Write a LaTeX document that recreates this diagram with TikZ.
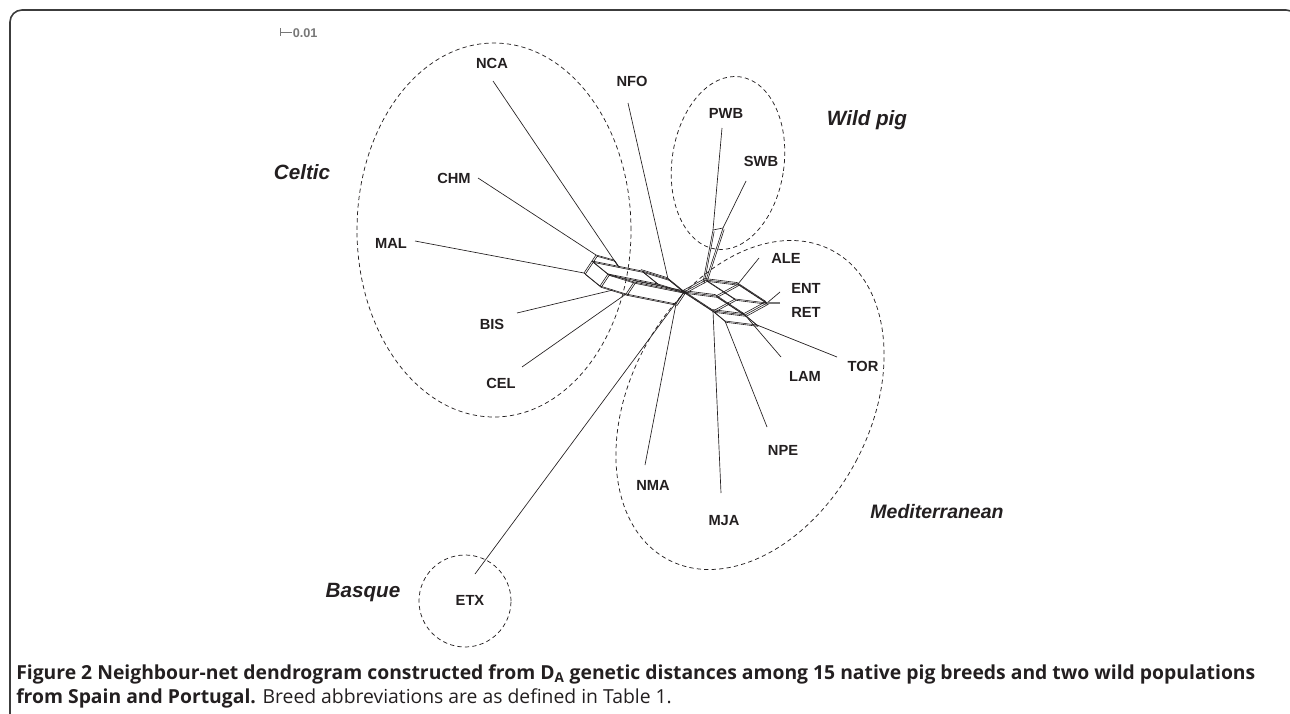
\documentclass[tikz,border=0pt]{standalone}
\usepackage{fontspec}
\setmainfont{Liberation Sans}
\newfontfamily\capfont{Open Sans}
\definecolor{ink}{HTML}{231F20}
\definecolor{framecol}{HTML}{3C3C3C}
\definecolor{scalecol}{HTML}{777777}
\definecolor{retcol}{HTML}{777777}
\begin{document}
\begin{tikzpicture}[x=0.75pt,y=-0.75pt,
  lab/.style={font=\bfseries\fontsize{11}{13}\selectfont, text=ink, inner sep=0pt},
  grplab/.style={font=\bfseries\itshape\fontsize{15.5}{18}\selectfont, text=ink, inner sep=0pt},
  grp/.style={draw=ink, dash pattern=on 3.2pt off 2.4pt, line width=0.55pt},
  leaf/.style={draw=ink, line width=0.5pt},
  net/.style={draw=ink, line width=0.45pt, line join=round},
  captext/.style={anchor=base west, inner sep=0pt, text=ink, font=\capfont\fontsize{14.5}{17}\selectfont}
]
\useasboundingbox (0,0) rectangle (1290,714);
% frame
\draw[framecol, line width=1.2pt, rounded corners=9pt] (10,730) -- (10,10) -- (1298,10) -- (1298,60);

% scale bar
\coordinate (sb1) at (280,32);
\coordinate (sb2) at (292,32);
\draw[scalecol, line width=0.5pt] (280,28) -- (280,36);
\draw[scalecol, line width=0.5pt] (sb1) -- (sb2);
\node[anchor=west, inner sep=0pt, text=scalecol, font=\bfseries\fontsize{9.5}{11}\selectfont] (scale) at (292.5,33) {0.01};

% group outlines
\draw[grp] (494,230) ellipse [x radius=102.75pt, y radius=140.25pt];
\draw[grp, shift={(728,163)}, rotate=-8] (0,0) ellipse [x radius=42pt, y radius=65.25pt];
\draw[grp, shift={(750,405)}, rotate=-28] (0,0) ellipse [x radius=90pt, y radius=131.25pt];
\draw[grp] (465,601) circle [radius=34.5pt];

% group labels
\node[grplab] (celtic) at (302,172) {Celtic};
\node[grplab] (wild) at (867,120) {Wild pig};
\node[grplab, font=\bfseries\itshape\fontsize{14.6}{18}\selectfont] (medit) at (937,512) {Mediterranean};
\node[grplab] (basque) at (363,593) {Basque};

% breed labels
\node[lab] (NCA) at (492,63) {NCA};
\node[lab] (NFO) at (632,81) {NFO};
\node[lab] (CHM) at (454,178) {CHM};
\node[lab] (MAL) at (391,243) {MAL};
\node[lab] (BIS) at (492,324) {BIS};
\node[lab] (CEL) at (501,383) {CEL};
\node[lab] (ETX) at (470,600) {ETX};
\node[lab] (PWB) at (726,113) {PWB};
\node[lab] (SWB) at (761,161) {SWB};
\node[lab] (ALE) at (786,258) {ALE};
\node[lab] (ENT) at (806,288) {ENT};
\node[lab] (RET) at (806,312) {RET};
\node[lab] (TOR) at (863,366) {TOR};
\node[lab] (LAM) at (805,376) {LAM};
\node[lab] (NPE) at (783,450) {NPE};
\node[lab] (NMA) at (653,485) {NMA};
\node[lab] (MJA) at (724,521) {MJA};

% leaf-line outer ends
\coordinate (ncaE) at (493,81);
\coordinate (nfoE) at (628,103);
\coordinate (chmE) at (478,178);
\coordinate (malE) at (415,241);
\coordinate (bisE) at (517,313);
\coordinate (celE) at (522,367);
\coordinate (etxE) at (475,574);
\coordinate (pwbE) at (722,128);
\coordinate (swbE) at (746,181);
\coordinate (aleE) at (759,258);
\coordinate (entE) at (780,292);
\coordinate (retE) at (780,303);
\coordinate (torE) at (837,357);
\coordinate (lamE) at (781,357);
\coordinate (npeE) at (767,427);
\coordinate (nmaE) at (645,465);
\coordinate (mjaE) at (721,493);

% network vertices (left part)
\coordinate (V0) at (584,273);
\coordinate (A1) at (592,261);
\coordinate (A2) at (642,271);
\coordinate (A3) at (668,279);
\coordinate (L)  at (684,292);
\coordinate (B1) at (658,284);
\coordinate (B2) at (608,274);
\coordinate (B3) at (600,286);
\coordinate (B4) at (634,282);
\coordinate (B5) at (626,294);
\coordinate (B6) at (676,304);
\coordinate (nc) at (618,266);
\coordinate (bi) at (613,290);
\coordinate (C0) at (596,255);
\coordinate (C2) at (614,260);
% right part
\coordinate (P1) at (706,280);
\coordinate (P2) at (738,284);
\coordinate (P3) at (767,303);
\coordinate (P4) at (745,315);
\coordinate (P5) at (713,311);
\coordinate (Q1) at (716,296);
\coordinate (Q2) at (735,299);
\coordinate (P6) at (725,321);
\coordinate (P7) at (757,325);
% wild pig stems
\coordinate (p1) at (713,230);
\coordinate (p2) at (703,282);
\coordinate (s1) at (723,228);

\newcommand{\netcore}{%
  \draw[net] (V0) -- (A1) -- (A2) -- (A3) -- (L);
  \draw[net] (A2) -- (B1) -- (L);
  \draw[net] (A1) -- (B2) -- (B1);
  \draw[net] (V0) -- (B3) -- (B2) -- (B4) -- (L);
  \draw[net] (B3) -- (B5) -- (B4);
  \draw[net] (B5) -- (B6) -- (L);
  \draw[net] (A1) -- (C0) -- (C2) -- (nc);
  \draw[net] (L) -- (P1) -- (P2) -- (P3);
  \draw[net] (L) -- (P5) -- (P4) -- (P3);
  \draw[net] (L) -- (Q1) -- (P2);
  \draw[net] (Q1) -- (P4);
  \draw[net] (P1) -- (Q2) -- (P3);
  \draw[net] (P5) -- (Q2);
  \draw[net] (P5) -- (P6) -- (P7) -- (P4);
  \draw[net] (p1) -- (p2);
  \draw[net] (s1) -- (P1);
}
\netcore
\begin{scope}[transform canvas={shift={(0.9pt,-1.0pt)}}]
\netcore
\end{scope}
\begin{scope}[transform canvas={shift={(-0.8pt,1.1pt)}}]
\draw[net] (A2) -- (A3) -- (L) -- (P1) -- (P2) -- (P3);
\draw[net] (B4) -- (L) -- (Q1) -- (P4);
\draw[net] (L) -- (P5) -- (P4) -- (P3);
\end{scope}

% leaf edges
\draw[leaf] (ncaE) -- (nc);
\draw[leaf] (nfoE) -- (A3);
\draw[leaf] (chmE) -- (C0);
\draw[leaf] (malE) -- (V0);
\draw[leaf] (bisE) -- (bi);
\draw[leaf] (celE) -- (B5);
\draw[leaf] (etxE) -- (L);
\draw[leaf] (pwbE) -- (p1);
\draw[leaf] (swbE) -- (s1);
\draw[leaf] (p1) -- (s1);
\draw[leaf] (aleE) -- (P2);
\draw[leaf] (entE) -- (P3);
\draw[retcol, line width=0.9pt] (retE) -- (P3);
\draw[leaf] (torE) -- (P7);
\draw[leaf] (lamE) -- (P4);
\draw[leaf] (npeE) -- (P6);
\draw[leaf] (nmaE) -- (B6);
\draw[leaf] (mjaE) -- (P5);

% caption
\node[captext] (cap1) at (16,679) {\bfseries Figure 2 Neighbour-net dendrogram constructed from D\textsubscript{A} genetic distances among 15 native pig breeds and two wild populations};
\node[captext] (cap2) at (16,703) {\textbf{from Spain and Portugal.} Breed abbreviations are as defined in Table 1.};
\end{tikzpicture}
\end{document}
